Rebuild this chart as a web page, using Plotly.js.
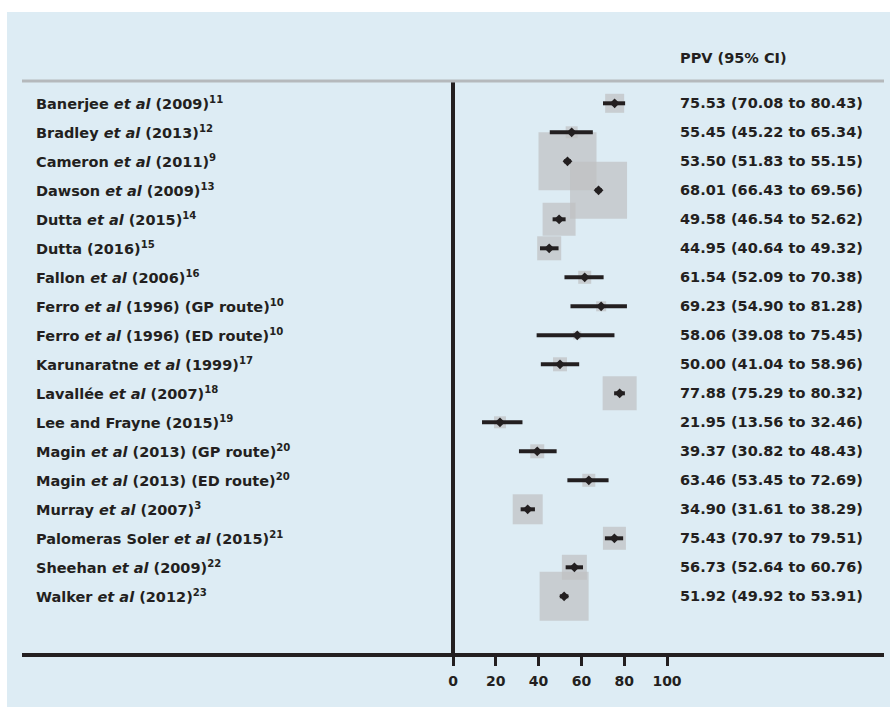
<!DOCTYPE html>
<html>
<head>
<meta charset="utf-8">
<script src="https://cdn.plot.ly/plotly-3.0.1.min.js"></script>
<style>html,body{margin:0;padding:0;background:#fff;}</style>
</head>
<body>
<div id="chart" style="width:890px;height:707px;"></div>
<script>
const studyNames = [
  "Banerjee <i>et al</i> (2009)",
  "Bradley <i>et al</i> (2013)",
  "Cameron <i>et al</i> (2011)",
  "Dawson <i>et al</i> (2009)",
  "Dutta <i>et al</i> (2015)",
  "Dutta (2016)",
  "Fallon <i>et al</i> (2006)",
  "Ferro <i>et al</i> (1996) (GP route)",
  "Ferro <i>et al</i> (1996) (ED route)",
  "Karunaratne <i>et al</i> (1999)",
  "Lavallée <i>et al</i> (2007)",
  "Lee and Frayne (2015)",
  "Magin <i>et al</i> (2013) (GP route)",
  "Magin <i>et al</i> (2013) (ED route)",
  "Murray <i>et al</i> (2007)",
  "Palomeras Soler <i>et al</i> (2015)",
  "Sheehan <i>et al</i> (2009)",
  "Walker <i>et al</i> (2012)"
];
const refNums = ["11","12","9","13","14","15","16","10","10","17","18","19","20","20","3","21","22","23"];
const ppv = [75.53,55.45,53.50,68.01,49.58,44.95,61.54,69.23,58.06,50.00,77.88,21.95,39.37,63.46,34.90,75.43,56.73,51.92];
const ciLow = [70.08,45.22,51.83,66.43,46.54,40.64,52.09,54.90,39.08,41.04,75.29,13.56,30.82,53.45,31.61,70.97,52.64,49.92];
const ciHigh = [80.43,65.34,55.15,69.56,52.62,49.32,70.38,81.28,75.45,58.96,80.32,32.46,48.43,72.69,38.29,79.51,60.76,53.91];
// study weights shown as square marker sizes
const weights = [19,12,58,57,33,24,13,10,8,14,34,12,14,13,30,23,25,49];
const tickVals = [0,20,40,60,80,100];
const headerText = "PPV (95% CI)";

const ink = "#231f20";
const fontFam = "DejaVu Sans";
const yIdx = studyNames.map((_, i) => i);
const txtFont = {family: fontFam, size: 14.5, color: ink, weight: "bold"};

const squares = {
  type: "scatter", mode: "markers", x: ppv, y: yIdx,
  marker: {symbol: "square", size: weights, color: "#bfc0c2", line: {width: 0}},
  hoverinfo: "skip", showlegend: false
};
const points = {
  type: "scatter", mode: "markers", x: ppv, y: yIdx,
  marker: {symbol: "diamond", size: 7.5, color: ink, line: {width: 0}},
  error_x: {
    type: "data", symmetric: false,
    array: ppv.map((v, i) => ciHigh[i] - v),
    arrayminus: ppv.map((v, i) => v - ciLow[i]),
    color: ink, thickness: 4, width: 0
  },
  showlegend: false
};

const annotations = [];
studyNames.forEach((s, i) => {
  annotations.push({
    xref: "paper", yref: "y", x: 0.014, y: i, xanchor: "left", yanchor: "middle",
    text: s + "<sup style=\"font-size:9px\">" + refNums[i] + "</sup>", showarrow: false,
    font: txtFont
  });
  annotations.push({
    xref: "paper", yref: "y", x: 0.761, y: i, xanchor: "left", yanchor: "middle",
    text: ppv[i].toFixed(2) + " (" + ciLow[i].toFixed(2) + " to " + ciHigh[i].toFixed(2) + ")",
    showarrow: false,
    font: txtFont
  });
});
annotations.push({
  xref: "paper", yref: "paper", x: 0.761, y: 1.04, xanchor: "left", yanchor: "middle",
  text: headerText, showarrow: false,
  font: txtFont
});

const layout = {
  width: 890, height: 707,
  margin: {l: 22, r: 6, t: 81, b: 54, pad: 0},
  paper_bgcolor: "#ffffff",
  plot_bgcolor: "rgba(0,0,0,0)",
  font: {family: fontFam, color: ink},
  xaxis: {
    range: [-201.4, 201.4],
    showgrid: false,
    zeroline: true, zerolinecolor: ink, zerolinewidth: 3.3,
    showline: true, linecolor: ink, linewidth: 4,
    ticks: "outside", ticklen: 9, tickwidth: 3, tickcolor: ink,
    tickvals: tickVals, ticktext: tickVals.map(v => String(v)),
    tickfont: {family: fontFam, size: 14, color: ink, weight: "bold"},
    ticklabelstandoff: 3,
    fixedrange: true
  },
  yaxis: {
    range: [18.955, -0.769],
    showgrid: false, zeroline: false, showline: false,
    showticklabels: false, ticks: "",
    fixedrange: true
  },
  shapes: [
    {type: "rect", xref: "paper", yref: "paper", x0: -0.0174, x1: 1.01, y0: -0.1, y1: 1.1206,
     fillcolor: "#ddecf4", line: {width: 0}, layer: "below"},
    {type: "line", xref: "paper", yref: "paper", x0: 0, x1: 1, y0: 1, y1: 1,
     line: {color: "#b5b9bc", width: 3}, layer: "above"}
  ],
  annotations: annotations,
  showlegend: false,
  hovermode: false
};

Plotly.newPlot("chart", [squares, points], layout, {displayModeBar: false, staticPlot: true});
</script>
</body>
</html>
